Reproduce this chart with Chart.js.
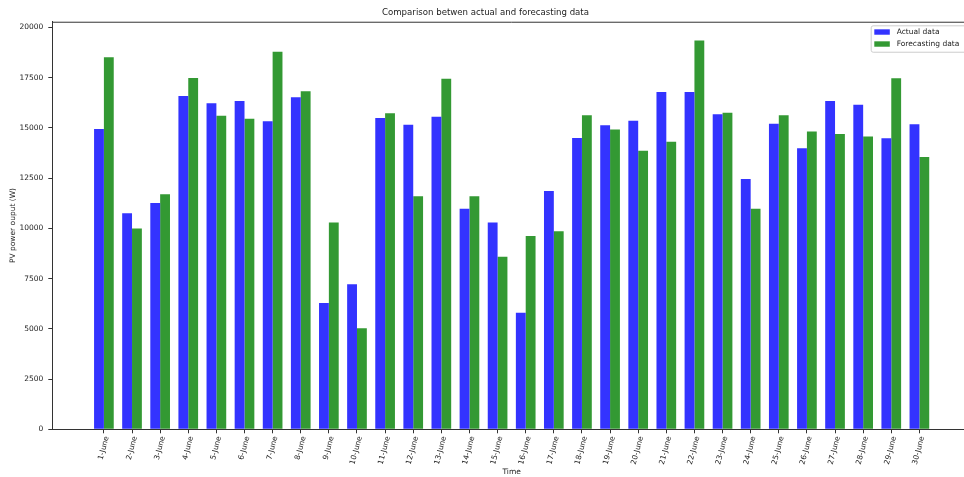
<!DOCTYPE html>
<html>
<head>
<meta charset="utf-8">
<script src="https://cdn.jsdelivr.net/npm/chart.js@4"></script>
<style>
  html, body { margin: 0; padding: 0; background: #fff; overflow: hidden; }
  #wrap { width: 964px; height: 477px; overflow: hidden; position: relative; }
  #myChart { position: absolute; left: 0; top: 0; }
</style>
</head>
<body>
<div id="wrap">
<canvas id="myChart" width="980" height="477"></canvas>
</div>
<script>
// dias (eixo X)
var days = ['1-June', '2-June', '3-June', '4-June', '5-June', '6-June', '7-June', '8-June', '9-June', '10-June',
  '11-June', '12-June', '13-June', '14-June', '15-June', '16-June', '17-June', '18-June', '19-June', '20-June',
  '21-June', '22-June', '23-June', '24-June', '25-June', '26-June', '27-June', '28-June', '29-June', '30-June'];

// potencia medida (W)
var actualData = [14950, 10750, 11270, 16590, 16230, 16340, 15330, 16530, 6290, 7220,
  15500, 15160, 15560, 10980, 10290, 5800, 11860, 14500, 15130, 15360,
  16790, 16790, 15680, 12460, 15210, 13990, 16340, 16160, 14490, 15180];

// potencia prevista (W)
var forecastData = [18520, 9990, 11700, 17490, 15610, 15460, 18800, 16830, 10290, 5030,
  15730, 11600, 17450, 11600, 8590, 9620, 9860, 15630, 14930, 13870,
  14320, 19350, 15760, 10980, 15630, 14830, 14700, 14570, 17470, 13560];

var yTicks = [0, 2500, 5000, 7500, 10000, 12500, 15000, 17500, 20000];

var FONT = 'DejaVu Sans';
var TEXT = '#222';
var LINE = '#333';

// linha de cima do quadro (estilo matplotlib)
var framePlugin = {
  id: 'frame',
  afterDraw: function (chart) {
    var a = chart.chartArea, ctx = chart.ctx;
    ctx.save();
    ctx.strokeStyle = LINE;
    ctx.lineWidth = 1;
    ctx.beginPath();
    ctx.moveTo(a.left, a.top + 0.5);
    ctx.lineTo(a.right, a.top + 0.5);
    ctx.lineTo(a.right, a.bottom);
    ctx.stroke();
    ctx.restore();
  }
};

// legenda dentro do grafico, canto superior direito
var boxLegend = {
  id: 'boxLegend',
  afterDraw: function (chart) {
    var a = chart.chartArea, ctx = chart.ctx;
    var sets = chart.data.datasets;
    var right = a.right - 3.6, top = a.top + 3.6;
    var w = 96.7, h = 26.4;
    ctx.save();
    ctx.beginPath();
    ctx.roundRect(right - w + 0.5, top + 0.5, w, h, 2);
    ctx.fillStyle = 'rgba(255,255,255,0.8)';
    ctx.fill();
    ctx.strokeStyle = '#cccccc';
    ctx.lineWidth = 1;
    ctx.stroke();
    ctx.font = '7.5px "' + FONT + '"';
    ctx.textBaseline = 'middle';
    ctx.textAlign = 'left';
    sets.forEach(function (ds, i) {
      var cy = top + 6.7 + i * 12;
      ctx.fillStyle = ds.backgroundColor;
      ctx.fillRect(right - w + 3.6, cy - 2.7, 15.5, 5.4);
      ctx.fillStyle = TEXT;
      ctx.fillText(ds.label, right - w + 26, cy);
    });
    ctx.restore();
  }
};

var ctx = document.getElementById('myChart').getContext('2d');
var myChart = new Chart(ctx, {
  type: 'bar',
  data: {
    datasets: [
      {
        label: 'Actual data',
        data: actualData.map(function (v, i) { return { x: i, y: v }; }),
        backgroundColor: '#3333ff',
        borderWidth: 0,
        categoryPercentage: 0.7,
        barPercentage: 1
      },
      {
        label: 'Forecasting data',
        data: forecastData.map(function (v, i) { return { x: i, y: v }; }),
        backgroundColor: '#339933',
        borderWidth: 0,
        categoryPercentage: 0.7,
        barPercentage: 1
      }
    ]
  },
  options: {
    responsive: false,
    animation: false,
    devicePixelRatio: 1,
    // o quadro vai um pouco alem da borda direita, como na figura original
    layout: { padding: { left: 0, right: 9, top: 0, bottom: 0 } },
    plugins: {
      legend: { display: false },
      tooltip: { enabled: false },
      title: {
        display: true,
        text: 'Comparison betwen actual and forecasting data',
        color: TEXT,
        font: { family: FONT, size: 8.6, weight: 'normal' },
        padding: { top: 8, bottom: 3.4 }
      }
    },
    scales: {
      x: {
        type: 'linear',
        offset: false,
        min: -1.835,
        max: 30.835,
        afterBuildTicks: function (scale) {
          scale.ticks = scale.ticks.filter(function (t) { return t.value >= 0 && t.value < days.length; });
        },
        afterFit: function (scale) { scale.height = 47.7; },
        ticks: {
          stepSize: 1,
          includeBounds: false,
          autoSkip: false,
          minRotation: 75,
          maxRotation: 75,
          padding: 2,
          labelOffset: 3,
          color: TEXT,
          font: { family: FONT, size: 7.5 },
          callback: function (value) { return days[value]; }
        },
        grid: { display: true, offset: false, drawOnChartArea: false, drawTicks: true, tickLength: 4, color: LINE },
        border: { display: true, color: LINE, width: 1 },
        title: {
          display: true,
          text: 'Time',
          color: TEXT,
          font: { family: FONT, size: 7.5 },
          padding: { top: 0, bottom: 0 }
        }
      },
      y: {
        min: 0,
        max: 20290,
        afterBuildTicks: function (scale) {
          scale.ticks = yTicks.map(function (v) { return { value: v }; });
        },
        afterFit: function (scale) { scale.width = 52.3; },
        ticks: {
          includeBounds: false,
          padding: 5,
          color: TEXT,
          font: { family: FONT, size: 7.5 },
          callback: function (value) { return String(value); }
        },
        grid: { display: true, drawOnChartArea: false, drawTicks: true, tickLength: 4, color: LINE },
        border: { display: true, color: LINE, width: 1 },
        title: {
          display: true,
          text: 'PV power ouput (W)',
          color: TEXT,
          font: { family: FONT, size: 7.5 },
          padding: { top: 8.5, bottom: 0 }
        }
      }
    }
  },
  plugins: [framePlugin, boxLegend]
});
</script>
</body>
</html>
